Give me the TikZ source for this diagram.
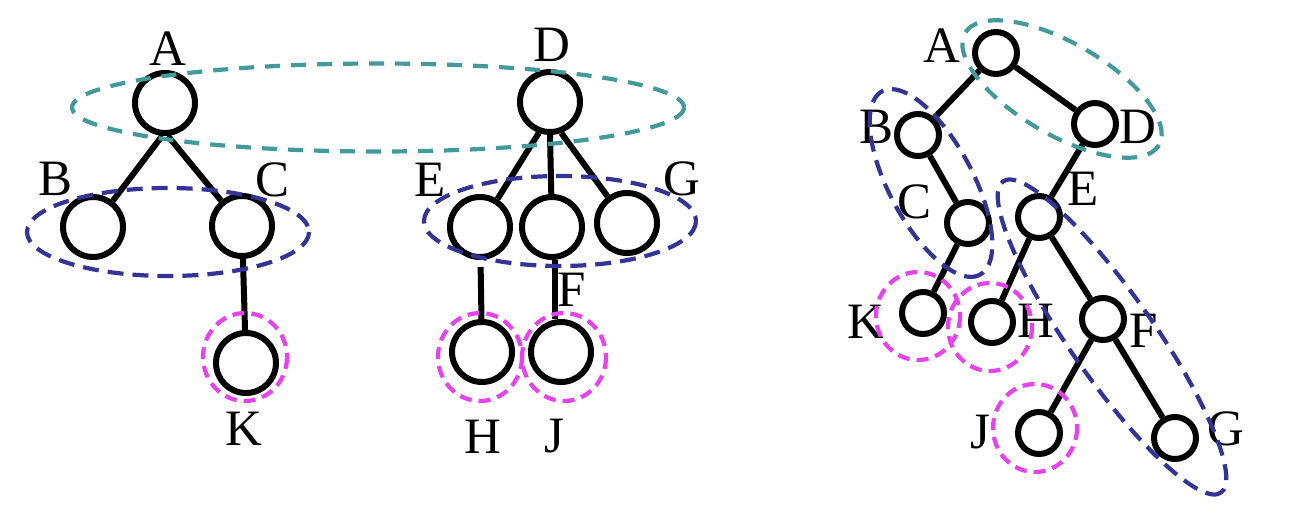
\documentclass[tikz,border=0pt]{standalone}
\usepackage{fontspec}
\setmainfont{Liberation Serif}
\definecolor{teal1}{RGB}{66,154,154}
\definecolor{navy1}{RGB}{52,52,150}
\definecolor{mag1}{RGB}{232,66,240}
\begin{document}
\begin{tikzpicture}[x=1pt,y=-1pt,
  bignode/.style={circle,draw=black,line width=6pt,minimum size=60pt,inner sep=0pt,fill=white},
  smallnode/.style={circle,draw=black,line width=6pt,minimum size=42pt,inner sep=0pt,fill=white},
  treeline/.style={line width=6pt},
  lbl/.style={font=\fontsize{51}{60}\selectfont,anchor=base,inner sep=0pt},
  tealdash/.style={draw=teal1,line width=4.2pt,dash pattern=on 15pt off 11pt},
  navydash/.style={draw=navy1,line width=4.2pt,dash pattern=on 16pt off 9pt},
  magdash/.style={draw=mag1,line width=4.2pt,dash pattern=on 12pt off 7pt}]
\useasboundingbox (0,0) rectangle (1310,522);

% ---------- left tree ----------
\node[bignode] (A1) at (165,103) {};
\node[bignode] (B1) at (93,227) {};
\node[bignode] (C1) at (242,226) {};
\node[bignode] (K1) at (246,363) {};
\draw[treeline] (A1.265) -- (B1);
\draw[treeline] (A1.275) -- (C1);
\draw[treeline] (C1) -- (K1);
\node[lbl] (lA1) at (168,65) {A};
\node[lbl] (lB1) at (56,195) {B};
\node[lbl] (lC1) at (273,196) {C};
\node[lbl] (lK1) at (244,445) {K};

% ---------- middle tree ----------
\node[bignode] (D2) at (550,102) {};
\node[bignode] (E2) at (480,227) {};
\node[bignode] (F2) at (552,227) {};
\node[bignode] (G2) at (627,223) {};
\node[bignode] (H2) at (482,352) {};
\node[bignode] (J2) at (561,352) {};
\draw[treeline] (D2.250) -- (E2);
\draw[treeline] (D2.south) -- (F2);
\draw[treeline] (D2.290) -- (G2);
\draw[treeline,shorten <=7pt] (E2) -- (H2);
\draw[treeline] ([xshift=3pt]F2.south) -- ([xshift=-6pt]J2.north);
\node[lbl] (lD2) at (552,61) {D};
\node[lbl] (lE2) at (430,196) {E};
\node[lbl] (lG2) at (682,195) {G};
\node[lbl] (lF2) at (572,306) {F};
\node[lbl] (lH2) at (483,453) {H};
\node[lbl] (lJ2) at (554,452) {J};

% ---------- right tree ----------
\node[smallnode] (A3) at (996,53) {};
\node[smallnode] (D3) at (1095,124) {};
\node[smallnode] (B3) at (918,135) {};
\node[smallnode] (C3) at (968,223) {};
\node[smallnode] (E3) at (1039,217) {};
\node[smallnode] (K3) at (923,313) {};
\node[smallnode] (H3) at (992,322) {};
\node[smallnode] (F3) at (1103,319) {};
\node[smallnode] (J3) at (1039,433) {};
\node[smallnode] (G3) at (1175,438) {};
\draw[treeline] (A3) -- (B3);
\draw[treeline] (A3) -- (D3);
\draw[treeline] (B3) -- (C3);
\draw[treeline] (C3) -- (K3);
\draw[treeline] (D3) -- (E3);
\draw[treeline] (E3) -- (H3);
\draw[treeline] (E3) -- (F3);
\draw[treeline] (F3) -- (J3);
\draw[treeline] (F3) -- (G3);
\node[lbl] (lA3) at (942,62) {A};
\node[lbl] (lB3) at (876,143) {B};
\node[lbl] (lD3) at (1138,143) {D};
\node[lbl] (lC3) at (914,218) {C};
\node[lbl] (lE3) at (1083,205) {E};
\node[lbl] (lK3) at (866,338) {K};
\node[lbl] (lH3) at (1036,337) {H};
\node[lbl] (lF3) at (1144,347) {F};
\node[lbl] (lJ3) at (980,448) {J};
\node[lbl] (lG3) at (1226,445) {G};

% ---------- dashed groupings ----------
\draw[tealdash] (378,107.5) ellipse [x radius=306, y radius=44];
\draw[navydash] (168,232) ellipse [x radius=141, y radius=44];
\draw[navydash] (560,221) ellipse [x radius=136, y radius=45];
\draw[magdash] (245,357) ellipse [x radius=42, y radius=44];
\draw[magdash] (480,357) ellipse [x radius=42, y radius=44];
\draw[magdash] (564,357) ellipse [x radius=42, y radius=44];

\draw[tealdash,shift={(1062,89)},rotate=-30] (0,0) ellipse [x radius=112, y radius=46];
\draw[navydash,shift={(931,183)},rotate=-62] (0,0) ellipse [x radius=104, y radius=42];
\draw[navydash,shift={(1112,337)},rotate=-55] (0,0) ellipse [x radius=190, y radius=42];
\draw[magdash] (918,316) ellipse [x radius=42, y radius=44];
\draw[magdash] (990,327) ellipse [x radius=42, y radius=44];
\draw[magdash] (1035,428) ellipse [x radius=42, y radius=44];
\end{tikzpicture}
\end{document}
